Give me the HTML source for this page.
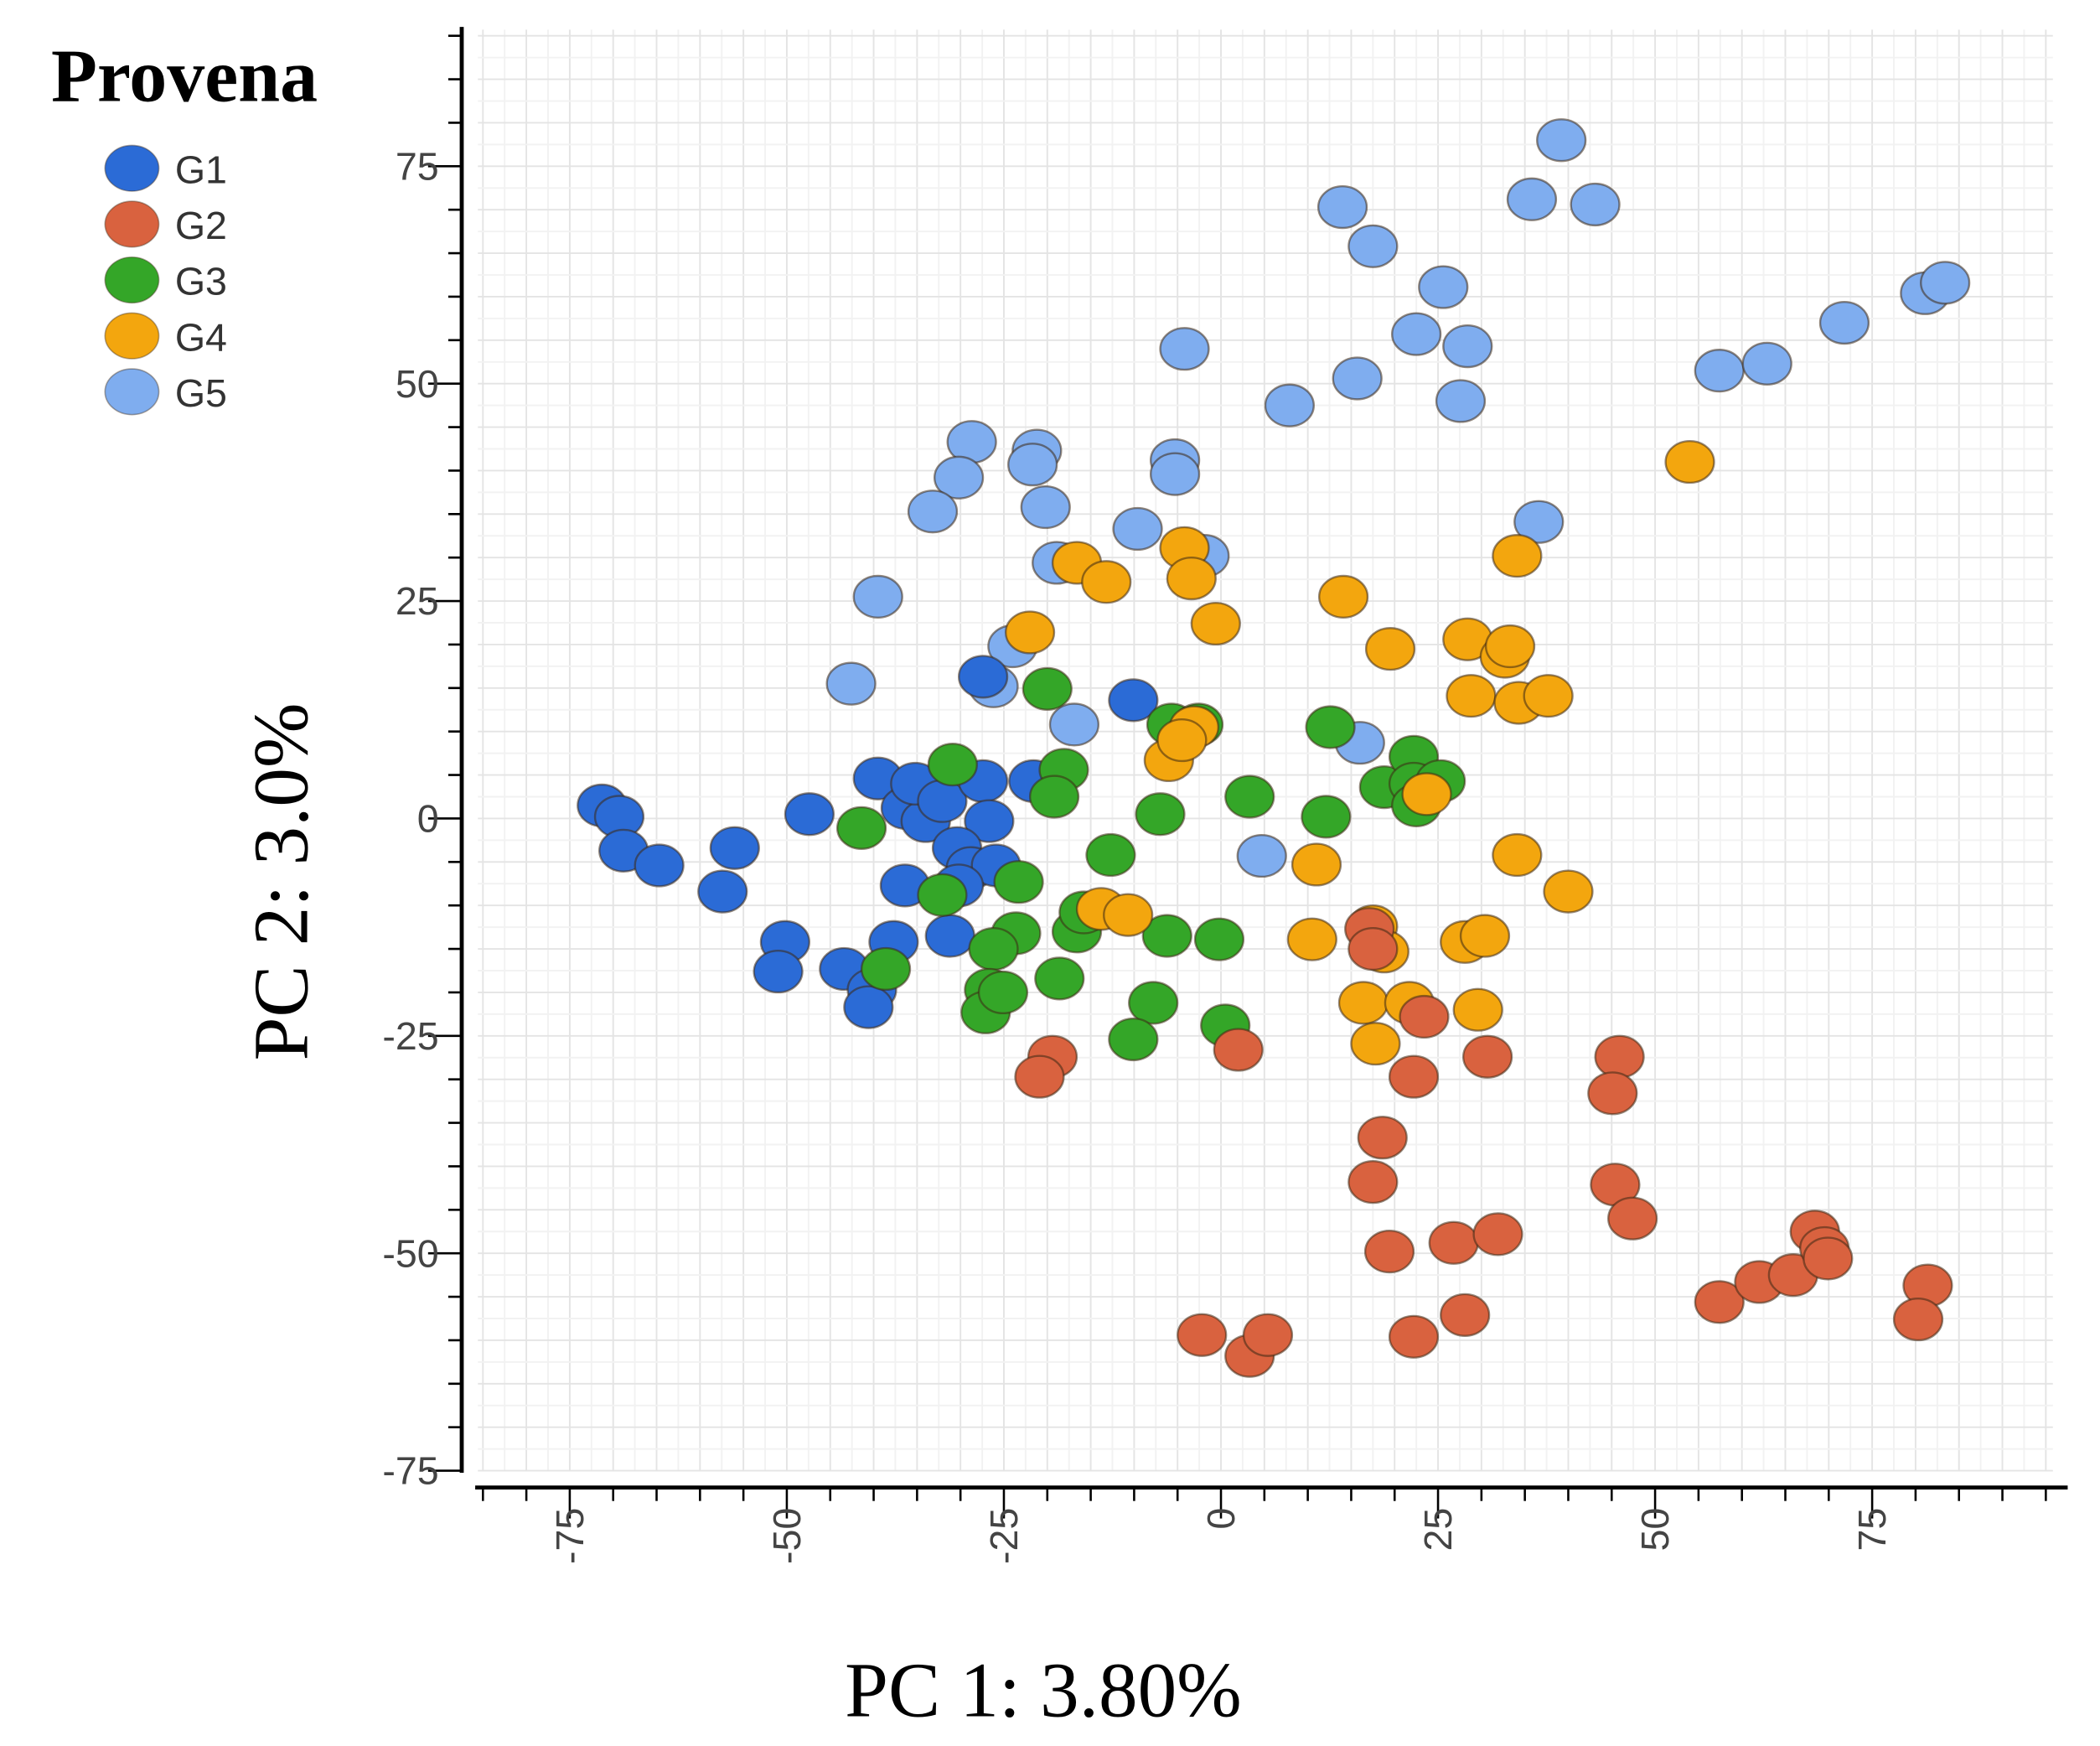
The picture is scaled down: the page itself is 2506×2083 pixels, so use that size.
<!DOCTYPE html>
<html><head><meta charset="utf-8"><style>
html,body{margin:0;padding:0;background:#fff;}
svg{display:block;}
</style></head><body>
<svg id="chart" width="2506" height="2083" viewBox="0 0 1560 1297" preserveAspectRatio="none" xmlns="http://www.w3.org/2000/svg">
<rect x="0" y="0" width="1560" height="1297" fill="#fff"/>
<g id="grid"></g>
<g id="axes"></g>
<g id="points"></g>
<text x="38" y="75" font-family="Liberation Serif, serif" font-weight="bold" font-size="56" fill="#000">Provena</text>
<g id="legend"></g>
<text transform="translate(228,655) rotate(-90)" text-anchor="middle" font-family="Liberation Serif, serif" font-size="58" fill="#000">PC 2: 3.0%</text>
<text x="775" y="1275" text-anchor="middle" font-family="Liberation Serif, serif" font-size="58" fill="#000">PC 1: 3.80%</text>
</svg>
<script>
const groups = ['G1','G2','G3','G4','G5'];
const colors = ['#2b6bd6','#d9623f','#34a628','#f3a60e','#7fadef'];
const xTicks = [-75,-50,-25,0,25,50,75];
const yTicks = [75,50,25,0,-25,-50,-75];
const g1x = [-71.3,-69.3,-68.8,-64.7,-56.0,-57.4,-47.4,-50.2,-51.0,-43.4,-40.2,-40.6,-37.7,-39.5,-36.3,-34.0,-35.2,-32.1,-27.4,-26.7,-30.4,-28.8,-25.9,-30.2,-36.4,-31.2,-27.4,-10.1,-21.6];
const g1y = [1.5,0.2,-3.7,-5.4,-3.4,-8.4,0.5,-14.2,-17.6,-17.3,-19.7,-21.7,-14.2,4.6,1.2,-0.3,4.0,2.0,4.3,-0.3,-3.4,-5.7,-5.4,-7.7,-7.7,-13.5,16.3,13.6,4.3];
const g2x = [17.1,17.5,23.4,22.2,30.7,2.0,-19.4,-20.9,18.6,17.5,19.4,26.8,31.9,28.1,22.2,-2.2,3.3,5.4,45.9,45.1,45.4,47.4,57.4,62.0,65.9,68.4,69.5,69.9,81.4,80.3];
const g2y = [-12.7,-15.0,-22.8,-29.7,-27.4,-26.6,-27.4,-29.7,-36.7,-41.8,-49.8,-48.8,-47.8,-57.1,-59.6,-59.4,-61.8,-59.4,-27.4,-31.6,-42.1,-46.0,-55.6,-53.3,-52.5,-47.5,-49.4,-50.6,-53.7,-57.6];
const g3x = [-30.9,-20.0,-18.1,-19.2,-41.4,-32.1,-23.3,-23.6,-26.2,-26.7,-27.1,-25.1,-18.6,-16.6,-15.8,-12.7,-7.0,-6.2,-0.2,-7.8,-10.1,0.5,3.3,12.1,12.6,18.8,22.2,22.2,22.5,25.3,-38.6,-5.7,-2.6];
const g3y = [6.2,14.9,5.6,2.5,-1.1,-8.8,-7.3,-13.2,-15.0,-19.7,-22.3,-20.0,-18.4,-13.0,-10.8,-4.2,0.5,-13.5,-13.9,-21.2,-25.4,-23.8,2.5,0.2,10.5,3.6,7.1,4.0,1.5,4.3,-17.3,10.8,10.8];
const g4x = [54.0,-16.6,-13.2,-4.2,-3.4,-0.6,-22.0,14.1,19.5,28.4,32.7,33.3,34.1,28.8,34.3,37.7,-3.1,-6.0,-4.5,11.0,34.1,40.0,-13.8,-10.7,10.5,17.5,18.8,28.1,30.4,16.4,21.7,29.6,17.8,23.7];
const g4y = [41.0,29.4,27.2,31.1,27.6,22.4,21.4,25.5,19.5,20.6,18.6,19.8,30.2,14.1,13.3,14.1,10.5,6.7,9.0,-5.3,-4.2,-8.4,-10.4,-11.1,-13.9,-12.4,-15.3,-14.2,-13.5,-21.2,-21.2,-22.0,-25.9,2.8];
const g5x = [39.2,35.8,43.1,14.0,17.5,25.6,22.5,28.4,15.7,27.6,7.9,-4.2,57.4,62.9,71.8,81.1,83.4,-28.7,-30.2,-33.2,-21.2,-21.7,-20.2,-5.3,-5.3,-9.6,-1.9,-18.9,-39.5,36.6,-24.0,-26.2,-42.6,-16.9,16.0,4.7];
const g5y = [78.0,71.2,70.6,70.3,65.8,61.1,55.7,54.3,50.6,48.0,47.5,54.0,51.5,52.3,57.0,60.4,61.6,43.3,39.2,35.3,42.3,40.7,35.8,41.2,39.6,33.3,30.2,29.4,25.5,34.1,19.8,15.2,15.5,10.8,8.7,-4.3];

const NS='http://www.w3.org/2000/svg';
const X = v => 907 + v*6.45;
const Y = v => 608 - v*6.46;
function mk(tag, attrs, parent){const e=document.createElementNS(NS,tag);for(const k in attrs)e.setAttribute(k,attrs[k]);parent.appendChild(e);return e;}
const grid=document.getElementById('grid'), axes=document.getElementById('axes'), pts=document.getElementById('points'), leg=document.getElementById('legend');
const L=355,R=1525,T=22,B=1093;
for(let v=-85; v<=95; v+=2.5){const x=X(v); if(x<L||x>R) continue;
  const l=mk('line',{x1:x,x2:x,y1:T,y2:B,stroke:(v%5===0)?'#e4e4e4':'#f2f2f2','stroke-width':1.2},grid);
  
  }
for(let v=-80; v<=95; v+=2.5){const y=Y(v); if(y<T||y>B) continue;
  const l=mk('line',{x1:L,x2:R,y1:y,y2:y,stroke:(v%5===0)?'#e4e4e4':'#f2f2f2','stroke-width':1.2},grid);
  
  }
mk('line',{x1:343,x2:343,y1:20,y2:1094,stroke:'#000','stroke-width':3},axes);
for(let v=-75; v<=90; v+=5){const y=Y(v); const major=v%25===0;
  mk('line',{x1:major?318:333,x2:343,y1:y,y2:y,stroke:'#000','stroke-width':1.6},axes);}
yTicks.forEach(v=>{const t=mk('text',{x:326,y:Y(v)+10,'text-anchor':'end','font-family':'Liberation Sans, sans-serif','font-size':29,fill:'#444'},axes);t.textContent=v;
  
  });
mk('line',{x1:353,x2:1536,y1:1105,y2:1105,stroke:'#000','stroke-width':3},axes);
for(let v=-85; v<=95; v+=5){const x=X(v); if(x<355||x>1535) continue; const major=v%25===0;
  mk('line',{x1:x,x2:x,y1:1105,y2:major?1128:1115,stroke:'#000','stroke-width':1.6},axes);}
xTicks.forEach(v=>{const t=mk('text',{transform:`translate(${X(v)+10},1120) rotate(-90)`,'text-anchor':'end','font-family':'Liberation Sans, sans-serif','font-size':29,fill:'#444'},axes);t.textContent=v;
  
  });
const xs=[g1x,g2x,g3x,g4x,g5x], ys=[g1y,g2y,g3y,g4y,g5y];
[4,0,2,3,1].forEach(gi=>{
  xs[gi].forEach((xv,i)=>{
    const e=mk('ellipse',{cx:X(xv),cy:Y(ys[gi][i]),rx:18,ry:15.5,fill:colors[gi],stroke:'rgba(60,40,20,0.55)','stroke-width':1.5},pts);
    
    
  });
});
groups.forEach((gname,i)=>{const y=125+i*41.5;
  const c=mk('ellipse',{cx:98,cy:y,rx:20,ry:17,fill:colors[i],stroke:'rgba(60,40,20,0.4)','stroke-width':1},leg);
  
  
  const t=mk('text',{x:130,y:y+11,'font-family':'Liberation Sans, sans-serif','font-size':29,fill:'#333'},leg);t.textContent=gname;
  
  
});
</script>
</body></html>
